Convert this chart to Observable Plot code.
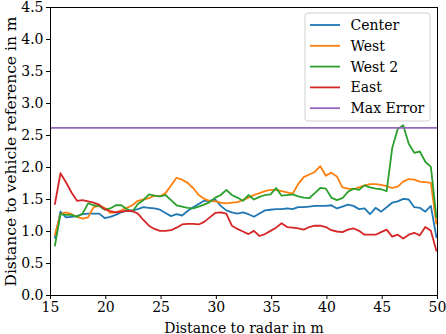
<!DOCTYPE html>
<html><head><meta charset="utf-8">
<script src="https://cdn.jsdelivr.net/npm/d3@7"></script>
<script src="https://cdn.jsdelivr.net/npm/@observablehq/plot@0.6"></script>
<style>
body{margin:0;background:#fff}
#chart{position:relative;width:446px;height:334px}
</style>
</head><body><div id="chart"></div>
<script>
const distances = [15.4,15.9,16.4,16.9,17.4,17.9,18.4,18.9,19.4,19.9,20.4,20.9,21.4,21.9,22.4,22.9,23.4,23.9,24.4,24.9,
25.4,25.9,26.4,26.9,27.4,27.9,28.4,28.9,29.4,29.9,30.4,30.9,31.4,31.9,32.4,32.9,33.4,33.9,34.4,34.9,
35.4,35.9,36.4,36.9,37.4,37.9,38.4,38.9,39.4,39.9,40.4,40.9,41.4,41.9,42.4,42.9,43.4,43.9,44.4,44.9,
45.4,45.9,46.4,46.9,47.4,47.9,48.4,48.9,49.4,49.9];

const center = [0.90,1.31,1.22,1.23,1.24,1.27,1.28,1.28,1.28,1.21,1.23,1.26,1.30,1.33,1.33,1.35,1.38,1.37,1.36,1.34,
1.29,1.24,1.27,1.25,1.32,1.38,1.43,1.48,1.48,1.50,1.40,1.33,1.30,1.28,1.30,1.27,1.23,1.28,1.33,1.34,
1.35,1.35,1.36,1.35,1.38,1.38,1.39,1.40,1.40,1.40,1.41,1.36,1.39,1.42,1.40,1.35,1.36,1.27,1.37,1.31,
1.38,1.45,1.47,1.51,1.50,1.38,1.37,1.31,1.40,0.91];

const west = [0.95,1.27,1.30,1.27,1.23,1.20,1.22,1.38,1.40,1.37,1.29,1.30,1.33,1.37,1.41,1.48,1.50,1.52,1.56,1.55,
1.60,1.72,1.84,1.81,1.76,1.68,1.57,1.51,1.48,1.47,1.45,1.44,1.45,1.46,1.49,1.53,1.57,1.60,1.63,1.65,
1.65,1.63,1.61,1.59,1.74,1.85,1.89,1.93,2.02,1.87,1.92,1.86,1.69,1.67,1.66,1.69,1.72,1.74,1.74,1.73,
1.71,1.68,1.70,1.78,1.82,1.81,1.78,1.77,1.76,1.12];

const west2 = [0.78,1.27,1.26,1.26,1.23,1.28,1.44,1.41,1.40,1.34,1.36,1.41,1.41,1.35,1.31,1.43,1.49,1.58,1.56,1.55,
1.57,1.49,1.41,1.39,1.37,1.36,1.39,1.42,1.46,1.53,1.57,1.65,1.57,1.53,1.48,1.57,1.50,1.54,1.57,1.58,
1.68,1.56,1.57,1.58,1.55,1.53,1.52,1.60,1.68,1.67,1.53,1.49,1.52,1.62,1.67,1.65,1.72,1.69,1.67,1.66,
1.63,2.30,2.60,2.66,2.37,2.23,2.25,2.09,2.01,1.22];

const east = [1.43,1.91,1.77,1.61,1.48,1.49,1.47,1.45,1.42,1.35,1.32,1.30,1.31,1.32,1.32,1.28,1.18,1.09,1.04,1.01,
1.01,1.02,1.06,1.11,1.12,1.12,1.11,1.15,1.22,1.29,1.30,1.28,1.09,1.04,1.00,0.96,1.01,0.93,0.96,1.01,
1.06,1.13,1.07,1.06,1.05,1.03,1.07,1.09,1.09,1.07,1.02,1.00,0.99,1.03,1.05,1.01,0.95,0.95,0.95,0.99,
1.03,0.92,0.95,0.89,0.95,0.98,0.94,1.07,1.01,0.70];

const maxError = 2.62;

const seriesNames = ["Center", "West", "West 2", "East", "Max Error"];
const seriesColors = ["#1f77b4", "#ff7f0e", "#2ca02c", "#d62728", "#9467bd"];
const xTicks = [15, 20, 25, 30, 35, 40, 45, 50];
const yTicks = [0, 0.5, 1, 1.5, 2, 2.5, 3, 3.5, 4, 4.5];

const seriesValues = [center, west, west2, east];
const rows = seriesValues.flatMap((vals, k) => vals.map((v, i) => ({x: distances[i], y: v, name: seriesNames[k]})));

const font = "'DejaVu Serif', serif";
const plot = Plot.plot({
  width: 446, height: 334,
  marginLeft: 50, marginRight: 9, marginTop: 7, marginBottom: 39,
  style: {fontFamily: font, fontSize: "14px", color: "black", background: "white", overflow: "visible"},
  x: {domain: [15, 50]},
  y: {domain: [0, 4.5]},
  color: {domain: seriesNames, range: seriesColors},
  marks: [
    Plot.line(rows, {x: "x", y: "y", z: "name", stroke: "name", strokeWidth: 1.8, strokeLinejoin: "round"}),
    Plot.ruleY([maxError], {stroke: seriesColors[4], strokeWidth: 1.8}),
    Plot.frame({stroke: "black", strokeWidth: 1}),
    Plot.axisX({ticks: xTicks, tickSize: 4, tickPadding: 3, fontSize: 14,
      label: "Distance to radar in m", labelAnchor: "center", labelArrow: "none", labelOffset: 37}),
    Plot.axisY({ticks: yTicks, tickSize: 4, tickPadding: 3, fontSize: 14, tickFormat: d3.format(".1f"),
      label: "Distance to vehicle reference in m", labelAnchor: "center", labelArrow: "none", labelOffset: 46})
  ]
});
document.getElementById("chart").appendChild(plot);

const svg = d3.select(plot);
// the rotated y label is drawn slightly larger in the reference
svg.selectAll('[aria-label="y-axis label"] text').attr("font-size", 15.5).style("font-size", "15.5px");

// legend box (matplotlib style) in the upper right
const lg = svg.append("g").attr("transform", "translate(305,13)");
lg.append("rect").attr("x", 0).attr("y", 0).attr("width", 125).attr("height", 108)
  .attr("rx", 3).attr("fill", "white").attr("fill-opacity", 0.8).attr("stroke", "#d0d0d0");
seriesNames.forEach((n, i) => {
  const cy = 12 + i * 20.8;
  lg.append("line").attr("x1", 5).attr("x2", 35).attr("y1", cy).attr("y2", cy)
    .attr("stroke", seriesColors[i]).attr("stroke-width", 1.8);
  lg.append("text").attr("x", 45.5).attr("y", cy).attr("dy", "0.35em")
    .attr("text-anchor", "start").style("text-anchor", "start")
    .attr("font-family", font).attr("font-size", 14).attr("fill", "black").text(n);
});
</script>
</body></html>
